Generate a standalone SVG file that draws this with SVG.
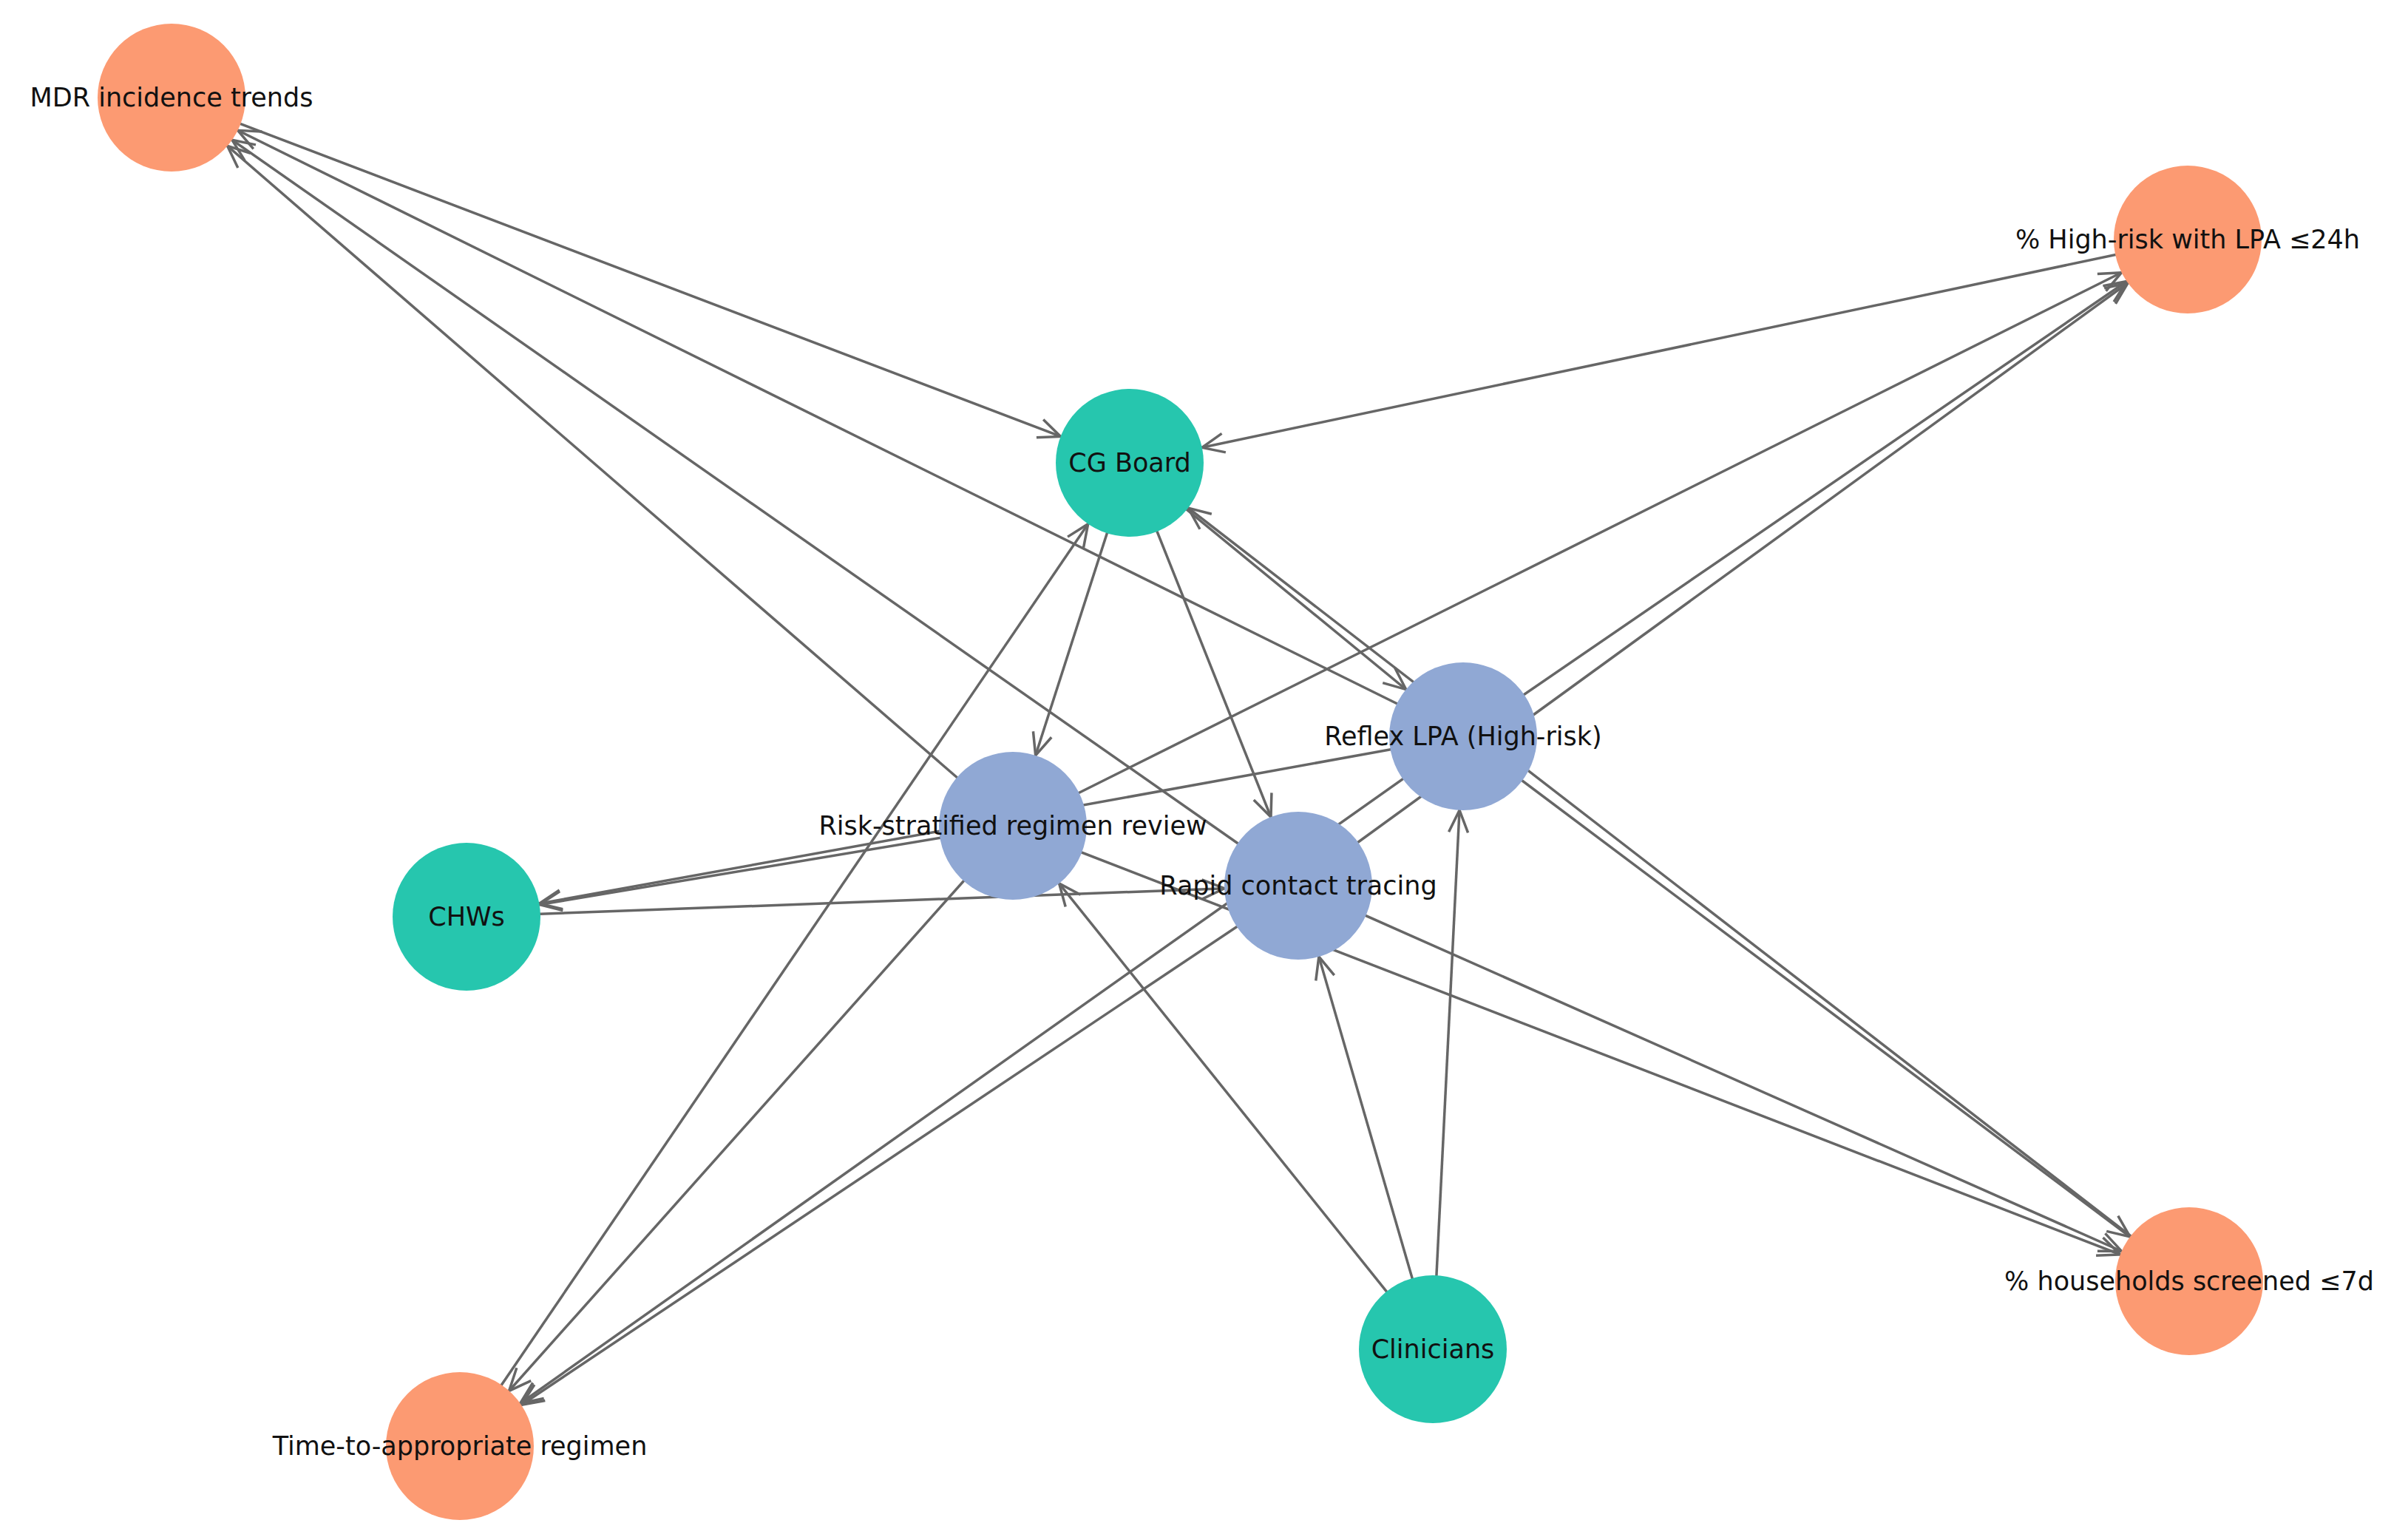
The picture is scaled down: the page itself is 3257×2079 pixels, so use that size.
<svg xmlns="http://www.w3.org/2000/svg" width="3257" height="2079" viewBox="0 0 3257 2079">
<style>
.e{stroke:#666;stroke-width:3.5;fill:none;marker-end:url(#a)}
.o{fill:#fc9a72}.t{fill:#26c6ae}.b{fill:#90a8d4}
text{font-family:"DejaVu Sans",sans-serif;font-size:35px;fill:#111;text-anchor:middle;dominant-baseline:central}
</style>
<defs><marker id="a" markerUnits="userSpaceOnUse" markerWidth="300" markerHeight="60" viewBox="-140 -30 160 60" refX="100" refY="0" orient="auto" overflow="visible"><path d="M-30,-13 L0,0 L-30,13" fill="none" stroke="#666" stroke-width="3.5"/></marker></defs>
<rect width="3257" height="2079" fill="#fff"/>
<g id="connectors">
<line class="e" x1="232" y1="132" x2="1528" y2="626"/>
<line class="e" x1="1979" y1="996" x2="232" y2="132"/>
<line class="e" x1="1370" y1="1117" x2="232" y2="132"/>
<line class="e" x1="1756" y1="1198" x2="232" y2="132"/>
<line class="e" x1="2959" y1="324" x2="1528" y2="626"/>
<line class="e" x1="1979" y1="996" x2="2959" y2="324"/>
<line class="e" x1="1370" y1="1117" x2="2959" y2="324"/>
<line class="e" x1="1756" y1="1198" x2="2959" y2="324"/>
<line class="e" x1="622" y1="1956" x2="1528" y2="626"/>
<line class="e" x1="1370" y1="1117" x2="622" y2="1956"/>
<line class="e" x1="1979" y1="996" x2="622" y2="1956"/>
<line class="e" x1="1756" y1="1198" x2="622" y2="1956"/>
<line class="e" x1="2961" y1="1733" x2="1528" y2="626"/>
<line class="e" x1="1979" y1="996" x2="2961" y2="1733"/>
<line class="e" x1="1756" y1="1198" x2="2961" y2="1733"/>
<line class="e" x1="1370" y1="1117" x2="2961" y2="1733"/>
<line class="e" x1="1528" y1="626" x2="1370" y2="1117"/>
<line class="e" x1="1528" y1="626" x2="1756" y2="1198"/>
<line class="e" x1="1528" y1="626" x2="1979" y2="996"/>
<line class="e" x1="1979" y1="996" x2="631" y2="1240"/>
<line class="e" x1="1370" y1="1117" x2="631" y2="1240"/>
<line class="e" x1="631" y1="1240" x2="1756" y2="1198"/>
<line class="e" x1="1938" y1="1825" x2="1370" y2="1117"/>
<line class="e" x1="1938" y1="1825" x2="1756" y2="1198"/>
<line class="e" x1="1938" y1="1825" x2="1979" y2="996"/>
</g>
<g id="mdr"><circle class="o" cx="232" cy="132" r="100"/><text x="232" y="132">MDR incidence trends</text></g>
<g id="hr"><circle class="o" cx="2959" cy="324" r="100"/><text x="2959" y="324">% High-risk with LPA ≤24h</text></g>
<g id="cg"><circle class="t" cx="1528" cy="626" r="100"/><text x="1528" y="626">CG Board</text></g>
<g id="reflex"><circle class="b" cx="1979" cy="996" r="100"/><text x="1979" y="996">Reflex LPA (High-risk)</text></g>
<g id="risk"><circle class="b" cx="1370" cy="1117" r="100"/><text x="1370" y="1117">Risk-stratified regimen review</text></g>
<g id="rapid"><circle class="b" cx="1756" cy="1198" r="100"/><text x="1756" y="1198">Rapid contact tracing</text></g>
<g id="chws"><circle class="t" cx="631" cy="1240" r="100"/><text x="631" y="1240">CHWs</text></g>
<g id="house"><circle class="o" cx="2961" cy="1733" r="100"/><text x="2961" y="1733">% households screened ≤7d</text></g>
<g id="clin"><circle class="t" cx="1938" cy="1825" r="100"/><text x="1938" y="1825">Clinicians</text></g>
<g id="time"><circle class="o" cx="622" cy="1956" r="100"/><text x="622" y="1956">Time-to-appropriate regimen</text></g>
</svg>
